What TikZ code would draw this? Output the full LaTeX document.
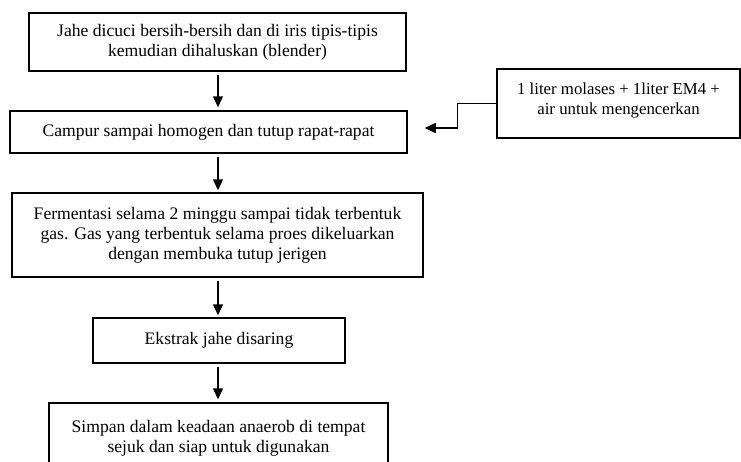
\documentclass[tikz,border=0pt]{standalone}
\usepackage{fontspec}
\setmainfont{Liberation Serif}
\usetikzlibrary{arrows.meta,calc}
\begin{document}
\begin{tikzpicture}[x=1pt,y=-1pt,
  box/.style={draw,line width=1.5pt,align=center,inner sep=0pt,
    font=\fontsize{17.6}{20}\selectfont},
  arr/.style={line width=1.5pt,-{Triangle[length=11pt,width=10pt]}}]
\useasboundingbox (0,0) rectangle (741,461);
\clip (0,0) rectangle (741,461);
\node[box,minimum width=377pt,minimum height=58pt] (b1) at (217.5,42)
  {Jahe dicuci bersih-bersih dan di iris tipis-tipis\\kemudian dihaluskan (blender)};
\node[box,minimum width=397pt,minimum height=42pt] (b2) at (208.5,132)
  {Campur sampai homogen dan tutup rapat-rapat};
\node[box,minimum width=411pt,minimum height=84pt] (b3) at (217.5,235)
  {Fermentasi selama 2 minggu sampai tidak terbentuk\\gas. Gas yang terbentuk selama proes dikeluarkan\\dengan membuka tutup jerigen};
\node[box,minimum width=252pt,minimum height=45pt] (b4) at (219,340.5)
  {Ekstrak jahe disaring};
\node[box,minimum width=339pt,minimum height=67pt,text depth=0pt] (b5) at (218.5,436.5)
  {Simpan dalam keadaan anaerob di tempat\\sejuk dan siap untuk digunakan};
\node[box,minimum width=243pt,minimum height=69pt,text depth=10pt,
  font=\fontsize{16.8}{20}\selectfont] (side) at (618.5,103.5)
  {1 liter molases + 1liter EM4 +\\air untuk mengencerkan};
\coordinate (a1) at (218,0);
\draw[arr,shorten <=3pt,shorten >=3pt] (b1.south -| a1) -- (b2.north -| a1);
\draw[arr,shorten <=3pt,shorten >=2pt] (b2.south -| a1) -- (b3.north -| a1);
\draw[arr,shorten <=3pt,shorten >=2pt] (b3.south -| a1) -- (b4.north -| a1);
\draw[arr,shorten <=3pt,shorten >=3pt] (b4.south -| a1) -- (b5.north -| a1);
\coordinate (t) at ($(b2.east)+(17,-4)$);
\draw[arr] (side.west) -- ++(-39,0) |- (t);
\end{tikzpicture}
\end{document}
